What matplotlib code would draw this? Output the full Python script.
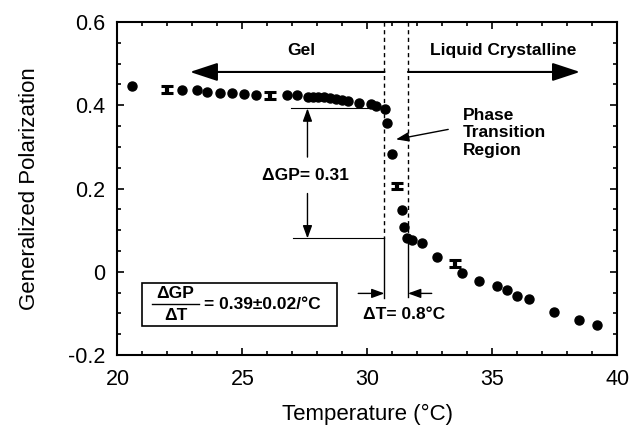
#!/usr/bin/env python3
import matplotlib
matplotlib.use('Agg')
import matplotlib.pyplot as plt
from matplotlib.patches import Rectangle, FancyArrowPatch
from matplotlib.ticker import MultipleLocator

# GP vs temperature
temperature = [20.59, 22.59, 23.19, 23.59, 24.09, 24.60, 25.08, 25.56,
               26.80, 27.17, 27.61, 27.83, 28.03, 28.27, 28.50, 28.74,
               28.97, 29.23, 29.67, 30.14, 30.34, 30.70, 30.79, 30.99,
               31.37, 31.47, 31.57, 31.77, 32.17, 32.78, 33.77, 34.47,
               35.17, 35.57, 35.97, 36.46, 37.47, 38.47, 39.19]
gp = [0.446, 0.437, 0.437, 0.433, 0.430, 0.429, 0.426, 0.424,
      0.425, 0.425, 0.420, 0.420, 0.419, 0.419, 0.417, 0.415,
      0.4125, 0.411, 0.405, 0.402, 0.398, 0.390, 0.358, 0.284,
      0.148, 0.108, 0.080, 0.076, 0.068, 0.036, -0.003, -0.022,
      -0.034, -0.043, -0.059, -0.066, -0.097, -0.116, -0.128]

# points drawn with error bars
err_temperature = [21.99, 26.10, 31.17, 33.50]
err_gp = [0.438, 0.423, 0.206, 0.020]
err_size = [0.008, 0.008, 0.008, 0.008]

# transition region boundaries (°C) and GP levels
t_low, t_high = 30.68, 31.62
gp_upper, gp_lower = 0.3925, 0.08

BOLD = dict(fontfamily='Liberation Sans', fontweight='bold', color='black')
FS = 12.5


def arrow(ax, start, end, big=False, lw=1.0):
    if big:
        style = '-|>,head_length=0.85,head_width=0.28'
        scale = 20
    else:
        style = '-|>,head_length=0.55,head_width=0.2'
        scale = 14
    ax.add_patch(FancyArrowPatch(start, end, arrowstyle=style,
                                 mutation_scale=scale, color='black',
                                 lw=lw, shrinkA=0, shrinkB=0))


def plot_gp(output):
    fig = plt.figure(figsize=(6.35, 4.34), dpi=100)
    ax = fig.add_axes([0.185, 0.182, 0.7874, 0.7673])

    ax.plot(temperature, gp, 'o', color='black', ms=6.5, mec='black')
    ax.errorbar(err_temperature, err_gp, yerr=err_size, fmt='none',
                ecolor='black', elinewidth=3, capsize=4.5, capthick=2.2)

    # dashed boundaries of the transition region
    ax.plot([t_low, t_low], [0.6, gp_lower], ls=(0, (3, 2.5)), color='black', lw=1.0)
    ax.plot([t_high, t_high], [0.6, 0.076], ls=(0, (3, 2.5)), color='black', lw=1.0)
    ax.plot([t_low, t_low], [gp_lower, -0.0635], color='black', lw=1.0)
    ax.plot([t_high, t_high], [0.076, -0.061], color='black', lw=1.0)

    # Gel / Liquid Crystalline arrows
    arrow(ax, (t_low, 0.48), (22.9, 0.48), big=True, lw=1.5)
    arrow(ax, (t_high, 0.48), (38.5, 0.48), big=True, lw=1.5)
    ax.text(27.37, 0.531, 'Gel', ha='center', va='center', fontsize=FS, **BOLD)
    ax.text(35.42, 0.531, 'Liquid Crystalline', ha='center', va='center',
            fontsize=FS, **BOLD)

    # delta GP
    ax.plot([26.93, t_low], [gp_upper, gp_upper], color='black', lw=0.8)
    ax.plot([27.02, t_low], [gp_lower, gp_lower], color='black', lw=0.8)
    arrow(ax, (27.6, 0.2755), (27.6, gp_upper))
    arrow(ax, (27.6, 0.188), (27.6, gp_lower))
    ax.text(27.5, 0.2305, '\u0394GP= 0.31', ha='center', va='center',
            fontsize=FS, **BOLD)

    # phase transition label
    ax.text(33.82, 0.334, 'Phase\nTransition\nRegion', ha='left', va='center',
            fontsize=FS, linespacing=1.2, **BOLD)
    arrow(ax, (33.23, 0.342), (31.14, 0.318))

    # delta T
    arrow(ax, (29.63, -0.052), (t_low, -0.052))
    arrow(ax, (32.57, -0.052), (t_high, -0.052))
    ax.text(31.45, -0.1025, '\u0394T= 0.8\u00b0C', ha='center', va='center',
            fontsize=FS, **BOLD)

    # slope box
    ax.add_patch(Rectangle((21.0, -0.1308), 7.79, 0.104, fill=False,
                           ec='black', lw=1.2))
    ax.text(22.32, -0.053, '\u0394GP', ha='center', va='center', fontsize=FS, **BOLD)
    ax.text(22.32, -0.105, '\u0394T', ha='center', va='center', fontsize=FS, **BOLD)
    ax.plot([21.37, 23.27], [-0.078, -0.078], color='black', lw=1.0)
    ax.text(23.45, -0.078, '= 0.39\u00b10.02/\u00b0C', ha='left', va='center',
            fontsize=FS, **BOLD)

    ax.set_xlim(20, 40)
    ax.set_ylim(-0.2, 0.6)
    ax.xaxis.set_major_locator(MultipleLocator(5))
    ax.xaxis.set_minor_locator(MultipleLocator(1))
    ax.yaxis.set_major_locator(MultipleLocator(0.2))
    ax.yaxis.set_minor_locator(MultipleLocator(0.05))
    ax.set_yticks([-0.2, 0, 0.2, 0.4, 0.6])
    ax.set_yticklabels(['-0.2', '0', '0.2', '0.4', '0.6'])
    ax.tick_params(which='both', direction='in', top=True, right=True, width=1.2)
    ax.tick_params(which='major', length=5)
    ax.tick_params(which='minor', length=3)
    ax.tick_params(axis='x', pad=10)
    ax.tick_params(axis='y', pad=9)
    for lab in ax.get_xticklabels() + ax.get_yticklabels():
        lab.set_fontfamily('Liberation Sans')
        lab.set_fontsize(15.5)
    for sp in ax.spines.values():
        sp.set_linewidth(1.5)

    ax.set_xlabel('Temperature (\u00b0C)', fontfamily='Liberation Sans',
                  fontsize=16, labelpad=10)
    ax.set_ylabel('Generalized Polarization', fontfamily='Liberation Sans',
                  fontsize=16, labelpad=20)

    fig.savefig(output, dpi=100)
    plt.close(fig)


def main():
    plot_gp('out.png')
    return 0


if __name__ == '__main__':
    exit(main())
